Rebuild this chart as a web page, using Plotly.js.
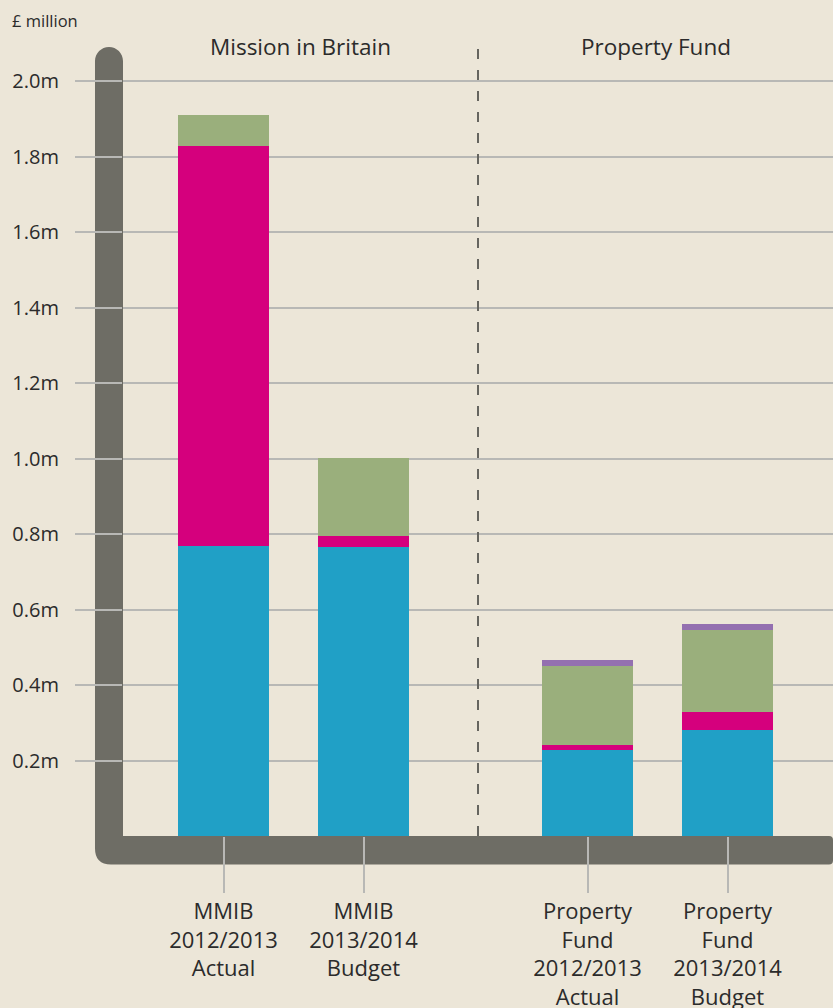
<!DOCTYPE html>
<html>
<head>
<meta charset="utf-8">
<script src="https://cdn.plot.ly/plotly-3.0.1.min.js"></script>
<style>
html,body{margin:0;padding:0;background:#ece6d8;}
#chart{width:833px;height:1008px;}
</style>
</head>
<body>
<div id="chart"></div>
<script>
// ---- data ----
const categories = [
  'MMIB<br>2012/2013<br>Actual',
  'MMIB<br>2013/2014<br>Budget',
  'Property<br>Fund<br>2012/2013<br>Actual',
  'Property<br>Fund<br>2013/2014<br>Budget'
];
const panelTitles = ['Mission in Britain', 'Property Fund'];
const seriesBlue    = [0.770, 0.767, 0.229, 0.280];
const seriesMagenta = [1.059, 0.029, 0.013, 0.050];
const seriesGreen   = [0.082, 0.206, 0.209, 0.217];
const seriesPurple  = [0.000, 0.000, 0.016, 0.016];
const yTickVals  = [0.2, 0.4, 0.6, 0.8, 1.0, 1.2, 1.4, 1.6, 1.8, 2.0];
const yTickText  = ['0.2m','0.4m','0.6m','0.8m','1.0m','1.2m','1.4m','1.6m','1.8m','2.0m'];
const unitLabel = '£ million';

// ---- styling ----
const colors = ['#20a0c6', '#d5007d', '#9aaf7c', '#9470b0'];
const series = [seriesBlue, seriesMagenta, seriesGreen, seriesPurple];
const FONT = '"Open Sans", "Noto Sans", sans-serif';
const TXT = '#2b2b2b';
const GRID = '#b8b8b5';
const AXIS = '#6e6d65';

const W = 833, H = 1008;
const mL = 123, mR = 0, mT = 46, mB = 171.5;
const pw = W - mL - mR, ph = H - mT - mB;
const px = x => (x - mL) / pw;
const py = y => (H - mB - y) / ph;

const panel1 = [0, 1], panel2 = [2, 3];
const traces = [];
series.forEach((s, i) => {
  traces.push({type:'bar', x: panel1.map(k=>categories[k]), y: panel1.map(k=>s[k]),
    xaxis:'x', yaxis:'y', marker:{color:colors[i]}, width:0.65, hoverinfo:'none', showlegend:false});
  traces.push({type:'bar', x: panel2.map(k=>categories[k]), y: panel2.map(k=>s[k]),
    xaxis:'x2', yaxis:'y', marker:{color:colors[i]}, width:0.65, hoverinfo:'none', showlegend:false});
});

// thick L-shaped axis band
function P(x, y){ return px(x).toFixed(5) + ',' + py(y).toFixed(5); }
const bandPath = 'M' + P(95,61) +
  ' C' + P(95,53.3) + ' ' + P(101.3,47) + ' ' + P(109,47) +
  ' C' + P(116.7,47) + ' ' + P(123,53.3) + ' ' + P(123,61) +
  ' L' + P(123,836.5) + ' L' + P(829,836.5) +
  ' Q' + P(833,836.5) + ' ' + P(833,840.5) +
  ' L' + P(833,861) + ' Q' + P(833,865) + ' ' + P(829,865) +
  ' L' + P(111,865) + ' Q' + P(95,865) + ' ' + P(95,849) + ' Z';

const shapes = [
  {type:'path', xref:'paper', yref:'paper', path: bandPath, fillcolor: AXIS, line:{width:0}, layer:'below'},
  {type:'line', xref:'paper', yref:'paper', x0:0.5, x1:0.5, y0:0, y1:py(42),
    line:{color:'#66655f', width:2, dash:'10px,11px'}, layer:'above'}
];

const xCommon = {
  type:'category', showgrid:false, zeroline:false, showline:false,
  ticks:'outside', ticklen:55.5, tickwidth:2, tickcolor:GRID,
  tickfont:{family:FONT, size:22, color:TXT}, ticklabelstandoff:0, fixedrange:true
};

const layout = {
  width: W, height: H,
  margin:{l:mL, r:mR, t:mT, b:mB, pad:0},
  paper_bgcolor:'#ece6d8', plot_bgcolor:'rgba(0,0,0,0)',
  barmode:'stack', bargap:0.35,
  font:{family:FONT, color:TXT},
  xaxis: Object.assign({}, xCommon, {domain:[0,0.5], range:[-100.5/140, -100.5/140 + 355/140], anchor:'y'}),
  xaxis2: Object.assign({}, xCommon, {domain:[0.5,1], range:[-109.5/140, -109.5/140 + 355/140], anchor:'y'}),
  yaxis: {
    range:[0, (H - mB - mT)/377.5], tickvals:yTickVals, ticktext:yTickText,
    showgrid:true, gridcolor:GRID, gridwidth:2, zeroline:false, showline:false,
    ticks:'outside', ticklen:47, tickwidth:2, tickcolor:GRID, ticklabelstandoff:12,
    tickfont:{family:FONT, size:20, color:TXT}, fixedrange:true
  },
  shapes: shapes,
  annotations: [
    {text: panelTitles[0], xref:'x domain', yref:'paper', x:0.5, y:1, xanchor:'center', yanchor:'middle',
      showarrow:false, font:{family:FONT, size:22.5, color:TXT}},
    {text: panelTitles[1], xref:'x2 domain', yref:'paper', x:0.5, y:1, xanchor:'center', yanchor:'middle',
      showarrow:false, font:{family:FONT, size:22.5, color:TXT}},
    {text: unitLabel, xref:'paper', yref:'paper', x:px(10), y:py(20), xanchor:'left', yanchor:'middle',
      showarrow:false, font:{family:FONT, size:16.5, color:TXT}}
  ]
};

Plotly.newPlot('chart', traces, layout, {staticPlot:true, displayModeBar:false});
</script>
</body>
</html>
